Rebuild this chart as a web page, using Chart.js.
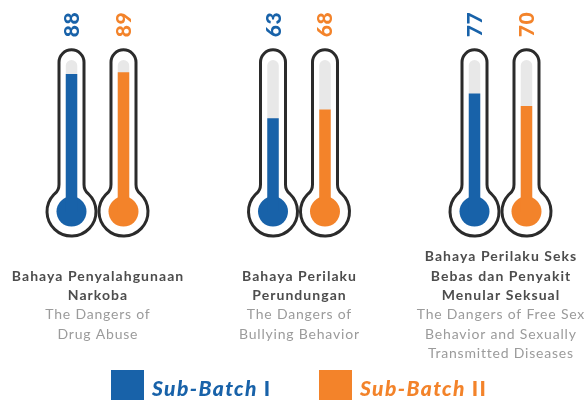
<!DOCTYPE html>
<html>
<head>
<meta charset="utf-8">
<script src="https://cdn.jsdelivr.net/npm/chart.js@4.4.1/dist/chart.umd.min.js"></script>
<style>
  html, body { margin: 0; padding: 0; background: #ffffff; }
  #wrap { width: 588px; height: 400px; position: relative; }
</style>
</head>
<body>
<div id="wrap"><canvas id="chart" width="588" height="400"></canvas></div>
<script>
// Topics surveyed (Indonesian title + English description)
const CATEGORIES = ['Narkoba', 'Perundungan', 'Seks Bebas & PMS'];
const TITLES = [
  ['Bahaya Penyalahgunaan', 'Narkoba'],
  ['Bahaya Perilaku', 'Perundungan'],
  ['Bahaya Perilaku Seks', 'Bebas dan Penyakit', 'Menular Seksual']
];
const SUBTITLES = [
  ['The Dangers of', 'Drug Abuse'],
  ['The Dangers of', 'Bullying Behavior'],
  ['The Dangers of Free Sex', 'Behavior and Sexually', 'Transmitted Diseases']
];

// Scores per batch
const SUB_BATCH_I = [88, 63, 77];
const SUB_BATCH_II = [89, 68, 70];

// Legend labels: italic part, upright numeral
const SERIES_NAMES = [['Sub-Batch', 'I'], ['Sub-Batch', 'II']];

const BLUE = '#1862a9';
const ORANGE = '#f3832a';
const OUTLINE = '#2b2b2b';
const TRACK = '#e8e8e8';
const TITLE_COLOR = '#4d4d4d';
const SUB_COLOR = '#9b9b9b';
const FONT = 'Lato, "Open Sans", sans-serif';

// Value at which the mercury starts (centre of the bulb)
const BULB_LEVEL = 10.3;

function centeredText(ctx, text, x, y, spacing) {
  // letter spacing adds a trailing gap; shift to keep the line centred
  ctx.letterSpacing = spacing + 'px';
  ctx.fillText(text, x + spacing / 2, y);
  ctx.letterSpacing = '0px';
}

const thermometer = {
  id: 'thermometer',
  beforeDatasetsDraw(chart) {
    const ctx = chart.ctx;
    const area = chart.chartArea;
    const tubeR = 12.5, bulbR = 24.5, trackHalf = 5.75, bulbFill = 15;
    const fillet = 6, dA = 0.22;
    chart.data.datasets.forEach((ds, di) => {
      const meta = chart.getDatasetMeta(di);
      meta.data.forEach((bar) => {
        const cx = bar.x;
        const by = bar.base;
        const topY = area.top + 9.5;
        const dy = Math.sqrt(bulbR * bulbR - tubeR * tubeR);
        const angR = Math.atan2(-dy, tubeR);
        const angL = Math.atan2(-dy, -tubeR) + Math.PI * 2;
        const a0 = angL - dA, a1 = angR + dA;
        ctx.save();
        ctx.beginPath();
        ctx.moveTo(cx + bulbR * Math.cos(a0), by + bulbR * Math.sin(a0));
        ctx.quadraticCurveTo(cx - tubeR, by - dy, cx - tubeR, by - dy - fillet);
        ctx.lineTo(cx - tubeR, topY);
        ctx.arc(cx, topY, tubeR, Math.PI, Math.PI * 2);
        ctx.lineTo(cx + tubeR, by - dy - fillet);
        ctx.quadraticCurveTo(cx + tubeR, by - dy, cx + bulbR * Math.cos(a1), by + bulbR * Math.sin(a1));
        ctx.arc(cx, by, bulbR, a1, a0);
        ctx.closePath();
        ctx.fillStyle = '#ffffff';
        ctx.fill();
        ctx.lineWidth = 3;
        ctx.strokeStyle = OUTLINE;
        ctx.lineJoin = 'round';
        ctx.stroke();
        // empty track
        const tTop = area.top + 13;
        ctx.beginPath();
        ctx.moveTo(cx - trackHalf, by);
        ctx.lineTo(cx - trackHalf, tTop);
        ctx.arc(cx, tTop, trackHalf, Math.PI, Math.PI * 2);
        ctx.lineTo(cx + trackHalf, by);
        ctx.closePath();
        ctx.fillStyle = TRACK;
        ctx.fill();
        // bulb
        ctx.beginPath();
        ctx.arc(cx, by, bulbFill, 0, Math.PI * 2);
        ctx.fillStyle = ds.backgroundColor;
        ctx.fill();
        ctx.restore();
      });
    });
  },
  afterDatasetsDraw(chart) {
    const ctx = chart.ctx;
    const area = chart.chartArea;
    // rotated value labels above each tube
    chart.data.datasets.forEach((ds, di) => {
      const meta = chart.getDatasetMeta(di);
      meta.data.forEach((bar, i) => {
        ctx.save();
        ctx.translate(bar.x, area.top - 28);
        ctx.rotate(-Math.PI / 2);
        ctx.font = '900 21px ' + FONT;
        ctx.fillStyle = ds.backgroundColor;
        ctx.textAlign = 'center';
        ctx.textBaseline = 'alphabetic';
        centeredText(ctx, String(ds.data[i]), 0, 7.5, 0.6);
        ctx.restore();
      });
    });

    // category titles and descriptions
    const xScale = chart.scales.x;
    const lh = 19.3;
    const titleBase = 300;
    CATEGORIES.forEach((c, i) => {
      const x = xScale.getPixelForValue(i);
      ctx.save();
      ctx.textAlign = 'center';
      ctx.textBaseline = 'alphabetic';
      ctx.font = 'bold 14px ' + FONT;
      ctx.fillStyle = TITLE_COLOR;
      const t = TITLES[i];
      t.forEach((line, k) => {
        centeredText(ctx, line, x, titleBase - (t.length - 1 - k) * lh, 1.05);
      });
      ctx.font = '14px ' + FONT;
      ctx.fillStyle = SUB_COLOR;
      SUBTITLES[i].forEach((line, k) => {
        centeredText(ctx, line, x, titleBase + (k + 1) * lh, 0.8);
      });
      ctx.restore();
    });

    // legend
    const sq = 33, gapText = 8, spacing = 1.4;
    const italicFont = 'italic 900 21px ' + FONT;
    const uprightFont = '900 21px ' + FONT;
    const starts = [111, 319];
    chart.data.datasets.forEach((ds, di) => {
      const [a, b] = SERIES_NAMES[di];
      const lx = starts[di];
      ctx.save();
      ctx.fillStyle = ds.backgroundColor;
      ctx.fillRect(lx, 370, sq, sq);
      ctx.textBaseline = 'alphabetic';
      ctx.textAlign = 'left';
      ctx.letterSpacing = spacing + 'px';
      ctx.font = italicFont;
      const wa = ctx.measureText(a + ' ').width;
      ctx.fillText(a + ' ', lx + sq + gapText, 395.7);
      ctx.font = uprightFont;
      ctx.fillText(b, lx + sq + gapText + wa, 395.7);
      ctx.restore();
    });
  }
};

new Chart(document.getElementById('chart'), {
  type: 'bar',
  data: {
    labels: CATEGORIES,
    datasets: [
      {
        label: SERIES_NAMES[0].join(' '),
        data: SUB_BATCH_I,
        backgroundColor: BLUE,
        base: BULB_LEVEL,
        clip: false
      },
      {
        label: SERIES_NAMES[1].join(' '),
        data: SUB_BATCH_II,
        backgroundColor: ORANGE,
        base: BULB_LEVEL,
        clip: false
      }
    ]
  },
  options: {
    responsive: false,
    animation: false,
    devicePixelRatio: 1,
    layout: { padding: { left: 97.5, right: 87.5, top: 52.8, bottom: 170.2 } },
    datasets: {
      bar: { categoryPercentage: 0.516, barPercentage: 0.221, borderWidth: 0 }
    },
    scales: {
      x: { display: false, offset: false, grid: { display: false } },
      y: { display: false, min: 0, max: 100 }
    },
    plugins: {
      legend: { display: false },
      tooltip: { enabled: false }
    }
  },
  plugins: [thermometer]
});
</script>
</body>
</html>
